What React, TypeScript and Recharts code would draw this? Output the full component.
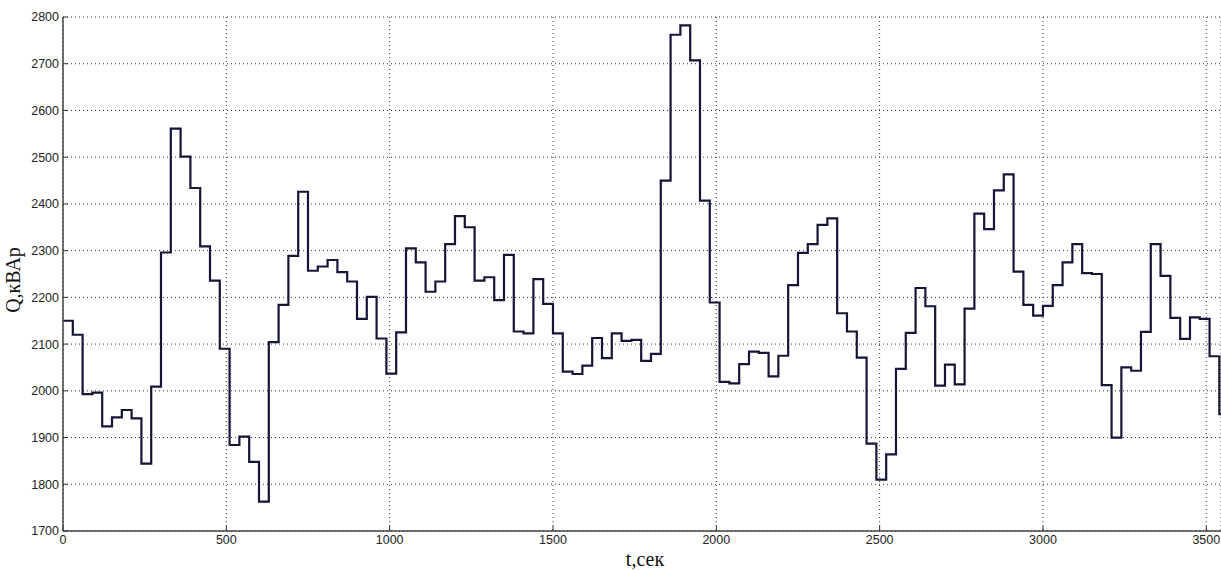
import { LineChart, Line, XAxis, YAxis, CartesianGrid, Label } from 'recharts';

// sampling step of the recorder, seconds
const STEP_SEC = 30;
const X_MAX = 3545;

const xTicks = [0, 500, 1000, 1500, 2000, 2500, 3000, 3500];
const yTicks = [1700, 1800, 1900, 2000, 2100, 2200, 2300, 2400, 2500, 2600, 2700, 2800];

// Q, kVAr per 30 s step
const q0to570 = [
  2150, 2120, 1993, 1996, 1924, 1943, 1959, 1941, 1844, 2009,
  2296, 2561, 2501, 2434, 2309, 2236, 2090, 1884, 1902, 1848,
];
const q600to1170 = [
  1763, 2104, 2184, 2289, 2426, 2257, 2266, 2280, 2254, 2234,
  2154, 2201, 2112, 2037, 2125, 2305, 2275, 2212, 2234, 2314,
];
const q1200to1770 = [
  2374, 2350, 2236, 2243, 2194, 2291, 2127, 2123, 2239, 2186,
  2123, 2041, 2036, 2054, 2113, 2070, 2123, 2107, 2109, 2064,
];
const q1800to2370 = [
  2079, 2450, 2762, 2782, 2707, 2407, 2189, 2019, 2016, 2057,
  2084, 2081, 2031, 2075, 2226, 2295, 2314, 2355, 2369, 2166,
];
const q2400to2970 = [
  2127, 2071, 1887, 1810, 1864, 2047, 2124, 2220, 2181, 2011,
  2056, 2014, 2176, 2379, 2346, 2429, 2463, 2255, 2184, 2161,
];
const q3000to3540 = [
  2182, 2226, 2275, 2314, 2252, 2250, 2012, 1900, 2050, 2043,
  2126, 2314, 2246, 2156, 2111, 2157, 2154, 2074, 1950,
];

const qValues = [
  ...q0to570,
  ...q600to1170,
  ...q1200to1770,
  ...q1800to2370,
  ...q2400to2970,
  ...q3000to3540,
];

const chartData = qValues.map((q, i) => ({ t: i * STEP_SEC, q }));
// hold the last level past the right edge (clipped)
chartData.push({ t: qValues.length * STEP_SEC, q: qValues[qValues.length - 1] });

const tickFont = { fill: '#222', fontSize: 12.5, fontFamily: '"Liberation Sans", Arial, sans-serif' };
const axisLine = { stroke: '#444', strokeWidth: 1.5 };
const titleFont = '"Liberation Serif", "Times New Roman", serif';

const App = () => (
  <div style={{ position: 'absolute', left: 0, top: 0, width: 1221, height: 570, background: '#fff' }}>
    <LineChart width={1221} height={570} data={chartData} margin={{ top: 17, right: 0, left: 0, bottom: 0 }}>
      <CartesianGrid stroke="#333" strokeDasharray="1 3" />
      <XAxis
        dataKey="t"
        type="number"
        domain={[0, X_MAX]}
        allowDataOverflow
        ticks={xTicks}
        height={39}
        tick={tickFont}
        tickSize={-5}
        tickMargin={9}
        tickLine={{ stroke: '#333' }}
        axisLine={axisLine}
      >
        <Label
          content={() => (
            <text x={645} y={566} textAnchor="middle" fontFamily={titleFont} fontSize={20} fill="#111">
              t,сек
            </text>
          )}
        />
      </XAxis>
      <XAxis
        xAxisId="top"
        orientation="top"
        dataKey="t"
        type="number"
        domain={[0, X_MAX]}
        allowDataOverflow
        ticks={xTicks}
        height={0}
        tick={() => <g />}
        tickSize={-5}
        tickLine={{ stroke: '#333' }}
        axisLine={axisLine}
      />
      <YAxis
        type="number"
        domain={[1700, 2800]}
        ticks={yTicks}
        width={63}
        tick={tickFont}
        tickSize={-5}
        tickMargin={9}
        tickLine={{ stroke: '#333' }}
        axisLine={axisLine}
      >
        <Label
          content={() => (
            <text
              x={20}
              y={280}
              transform="rotate(-90 20 280)"
              textAnchor="middle"
              fontFamily={titleFont}
              fontSize={20}
              fill="#111"
            >
              Q,кВАр
            </text>
          )}
        />
      </YAxis>
      <Line
        type="stepAfter"
        dataKey="q"
        stroke="#151538"
        strokeWidth={2.2}
        dot={false}
        activeDot={false}
        isAnimationActive={false}
      />
    </LineChart>
  </div>
);

export default App;
